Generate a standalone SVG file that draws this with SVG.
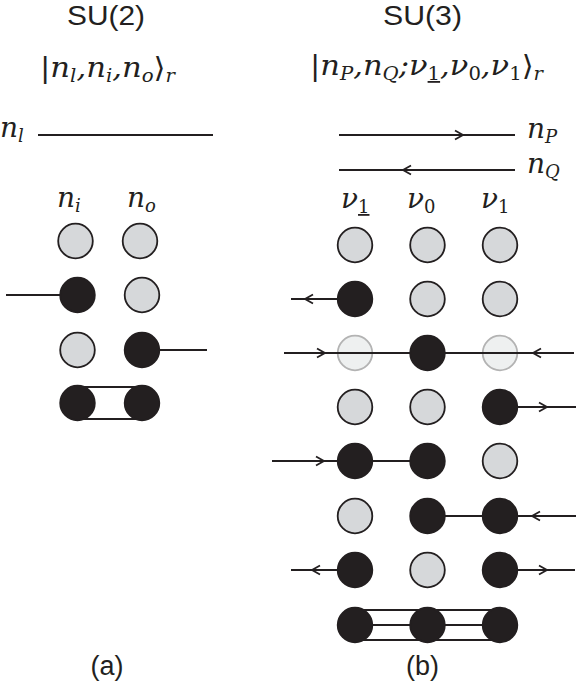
<svg xmlns="http://www.w3.org/2000/svg" xmlns:xlink="http://www.w3.org/1999/xlink" width="576" height="685" viewBox="0 0 576 685">
<defs>
<style>
.title{font-family:"Liberation Sans",Arial,sans-serif;font-size:27px;fill:#231f20;}
.math{font-family:"DejaVu Serif","Liberation Serif",serif;font-style:italic;font-size:28px;fill:#231f20;}
.up{font-style:normal;}
.sub{font-size:18px;}
.ln{stroke:#231f20;stroke-width:1.8;fill:none;}
.chev{stroke:#231f20;stroke-width:1.8;fill:none;stroke-linejoin:miter;}
.g{fill:#d6d8da;stroke:#231f20;stroke-width:1.8;}
.b{fill:#231f20;stroke:#231f20;stroke-width:1.8;}
.f{fill:#eef0f0;stroke:#b3b3b3;stroke-width:1.8;}
</style>
<path id="ar" class="chev" d="M-8,-4.5 L0,0 L-8,4.5"/>
<path id="al" class="chev" d="M8,-4.5 L0,0 L8,4.5"/>
</defs>
<rect width="576" height="685" fill="#ffffff"/>

<g id="labels">
<text class="title" x="106" y="25" text-anchor="middle" textLength="78" lengthAdjust="spacingAndGlyphs">SU(2)</text>
<text class="title" x="422.5" y="25" text-anchor="middle" textLength="79" lengthAdjust="spacingAndGlyphs">SU(3)</text>
<text class="math" x="40" y="77" textLength="135" lengthAdjust="spacingAndGlyphs"><tspan class="up">|</tspan>n<tspan class="sub" dy="5">l</tspan><tspan dy="-5">,n</tspan><tspan class="sub" dy="5">i</tspan><tspan dy="-5">,n</tspan><tspan class="sub" dy="5">o</tspan><tspan class="up" dy="-5">⟩</tspan><tspan class="sub" dy="5">r</tspan></text>
<text class="math" x="310" y="75" textLength="233" lengthAdjust="spacingAndGlyphs"><tspan class="up">|</tspan>n<tspan class="sub" dy="5">P</tspan><tspan dy="-5">,n</tspan><tspan class="sub" dy="5">Q</tspan><tspan dy="-5">;ν</tspan><tspan class="sub up" dy="5" text-decoration="underline">1</tspan><tspan dy="-5">,ν</tspan><tspan class="sub up" dy="5">0</tspan><tspan dy="-5">,ν</tspan><tspan class="sub up" dy="5">1</tspan><tspan class="up" dy="-5">⟩</tspan><tspan class="sub" dy="5">r</tspan></text>
<text class="math" x="0" y="137">n<tspan class="sub" dy="5">l</tspan></text>
<text class="math" x="57" y="207">n<tspan class="sub" dy="5">i</tspan></text>
<text class="math" x="127" y="207">n<tspan class="sub" dy="5">o</tspan></text>
<text class="math" x="527" y="138">n<tspan class="sub" dy="5">P</tspan></text>
<text class="math" x="527" y="173">n<tspan class="sub" dy="5">Q</tspan></text>
<text class="math" x="341" y="208">ν<tspan class="sub up" dy="5" text-decoration="underline">1</tspan></text>
<text class="math" x="407" y="208">ν<tspan class="sub up" dy="5">0</tspan></text>
<text class="math" x="481" y="208">ν<tspan class="sub up" dy="5">1</tspan></text>
<text class="title" x="107" y="675" text-anchor="middle">(a)</text>
<text class="title" x="422.5" y="675" text-anchor="middle">(b)</text>
</g>

<g id="faded-nodes">
<g id="b-r3-c1"><circle class="f" cx="355" cy="353" r="17.3"/></g>
<g id="b-r3-c3"><circle class="f" cx="500" cy="353" r="17.3"/></g>
</g>

<g id="connectors">
<line class="ln" x1="38" y1="135" x2="213" y2="135"/>
<line class="ln" x1="6" y1="295" x2="77.5" y2="295"/>
<line class="ln" x1="142" y1="350" x2="207" y2="350"/>
<line class="ln" x1="77.5" y1="387" x2="142" y2="387"/>
<line class="ln" x1="77.5" y1="419" x2="142" y2="419"/>

<line class="ln" x1="339" y1="135" x2="515" y2="135"/>
<use xlink:href="#ar" x="463" y="135"/>
<line class="ln" x1="339" y1="170" x2="515" y2="170"/>
<use xlink:href="#al" x="403" y="170"/>

<line class="ln" x1="291" y1="299" x2="355" y2="299"/>
<use xlink:href="#al" x="305" y="299"/>

<line class="ln" x1="284" y1="353" x2="574" y2="353"/>
<use xlink:href="#ar" x="325" y="353"/>
<use xlink:href="#al" x="533" y="353"/>

<line class="ln" x1="500" y1="407" x2="576" y2="407"/>
<use xlink:href="#ar" x="547" y="407"/>

<line class="ln" x1="272" y1="461" x2="427.5" y2="461"/>
<use xlink:href="#ar" x="324" y="461"/>

<line class="ln" x1="427.5" y1="516" x2="576" y2="516"/>
<use xlink:href="#al" x="532" y="516"/>

<line class="ln" x1="291" y1="570" x2="355" y2="570"/>
<use xlink:href="#al" x="312" y="570"/>
<line class="ln" x1="500" y1="570" x2="575" y2="570"/>
<use xlink:href="#ar" x="547" y="570"/>

<line class="ln" x1="355" y1="610" x2="500" y2="610"/>
<line class="ln" x1="355" y1="625" x2="500" y2="625"/>
<line class="ln" x1="355" y1="640" x2="500" y2="640"/>
</g>

<g id="nodes-a">
<g id="a-r1-i"><circle class="g" cx="75.5" cy="241" r="17.3"/></g>
<g id="a-r1-o"><circle class="g" cx="140" cy="241" r="17.3"/></g>
<g id="a-r2-i"><circle class="b" cx="77.5" cy="295" r="17.3"/></g>
<g id="a-r2-o"><circle class="g" cx="142" cy="295" r="17.3"/></g>
<g id="a-r3-i"><circle class="g" cx="77.5" cy="350" r="17.3"/></g>
<g id="a-r3-o"><circle class="b" cx="142" cy="350" r="17.3"/></g>
<g id="a-r4-i"><circle class="b" cx="77.5" cy="403" r="17.3"/></g>
<g id="a-r4-o"><circle class="b" cx="142" cy="403" r="17.3"/></g>
</g>

<g id="nodes-b">
<g id="b-r1-c1"><circle class="g" cx="355" cy="245" r="17.3"/></g>
<g id="b-r1-c2"><circle class="g" cx="427.5" cy="245" r="17.3"/></g>
<g id="b-r1-c3"><circle class="g" cx="500" cy="245" r="17.3"/></g>
<g id="b-r2-c1"><circle class="b" cx="355" cy="299" r="17.3"/></g>
<g id="b-r2-c2"><circle class="g" cx="427.5" cy="299" r="17.3"/></g>
<g id="b-r2-c3"><circle class="g" cx="500" cy="299" r="17.3"/></g>
<g id="b-r3-c2"><circle class="b" cx="427.5" cy="353" r="17.3"/></g>
<g id="b-r4-c1"><circle class="g" cx="355" cy="407" r="17.3"/></g>
<g id="b-r4-c2"><circle class="g" cx="427.5" cy="407" r="17.3"/></g>
<g id="b-r4-c3"><circle class="b" cx="500" cy="407" r="17.3"/></g>
<g id="b-r5-c1"><circle class="b" cx="355" cy="461" r="17.3"/></g>
<g id="b-r5-c2"><circle class="b" cx="427.5" cy="461" r="17.3"/></g>
<g id="b-r5-c3"><circle class="g" cx="500" cy="461" r="17.3"/></g>
<g id="b-r6-c1"><circle class="g" cx="355" cy="516" r="17.3"/></g>
<g id="b-r6-c2"><circle class="b" cx="427.5" cy="516" r="17.3"/></g>
<g id="b-r6-c3"><circle class="b" cx="500" cy="516" r="17.3"/></g>
<g id="b-r7-c1"><circle class="b" cx="355" cy="570" r="17.3"/></g>
<g id="b-r7-c2"><circle class="g" cx="427.5" cy="570" r="17.3"/></g>
<g id="b-r7-c3"><circle class="b" cx="500" cy="570" r="17.3"/></g>
<g id="b-r8-c1"><circle class="b" cx="355" cy="625" r="17.3"/></g>
<g id="b-r8-c2"><circle class="b" cx="427.5" cy="625" r="17.3"/></g>
<g id="b-r8-c3"><circle class="b" cx="500" cy="625" r="17.3"/></g>
</g>
</svg>
